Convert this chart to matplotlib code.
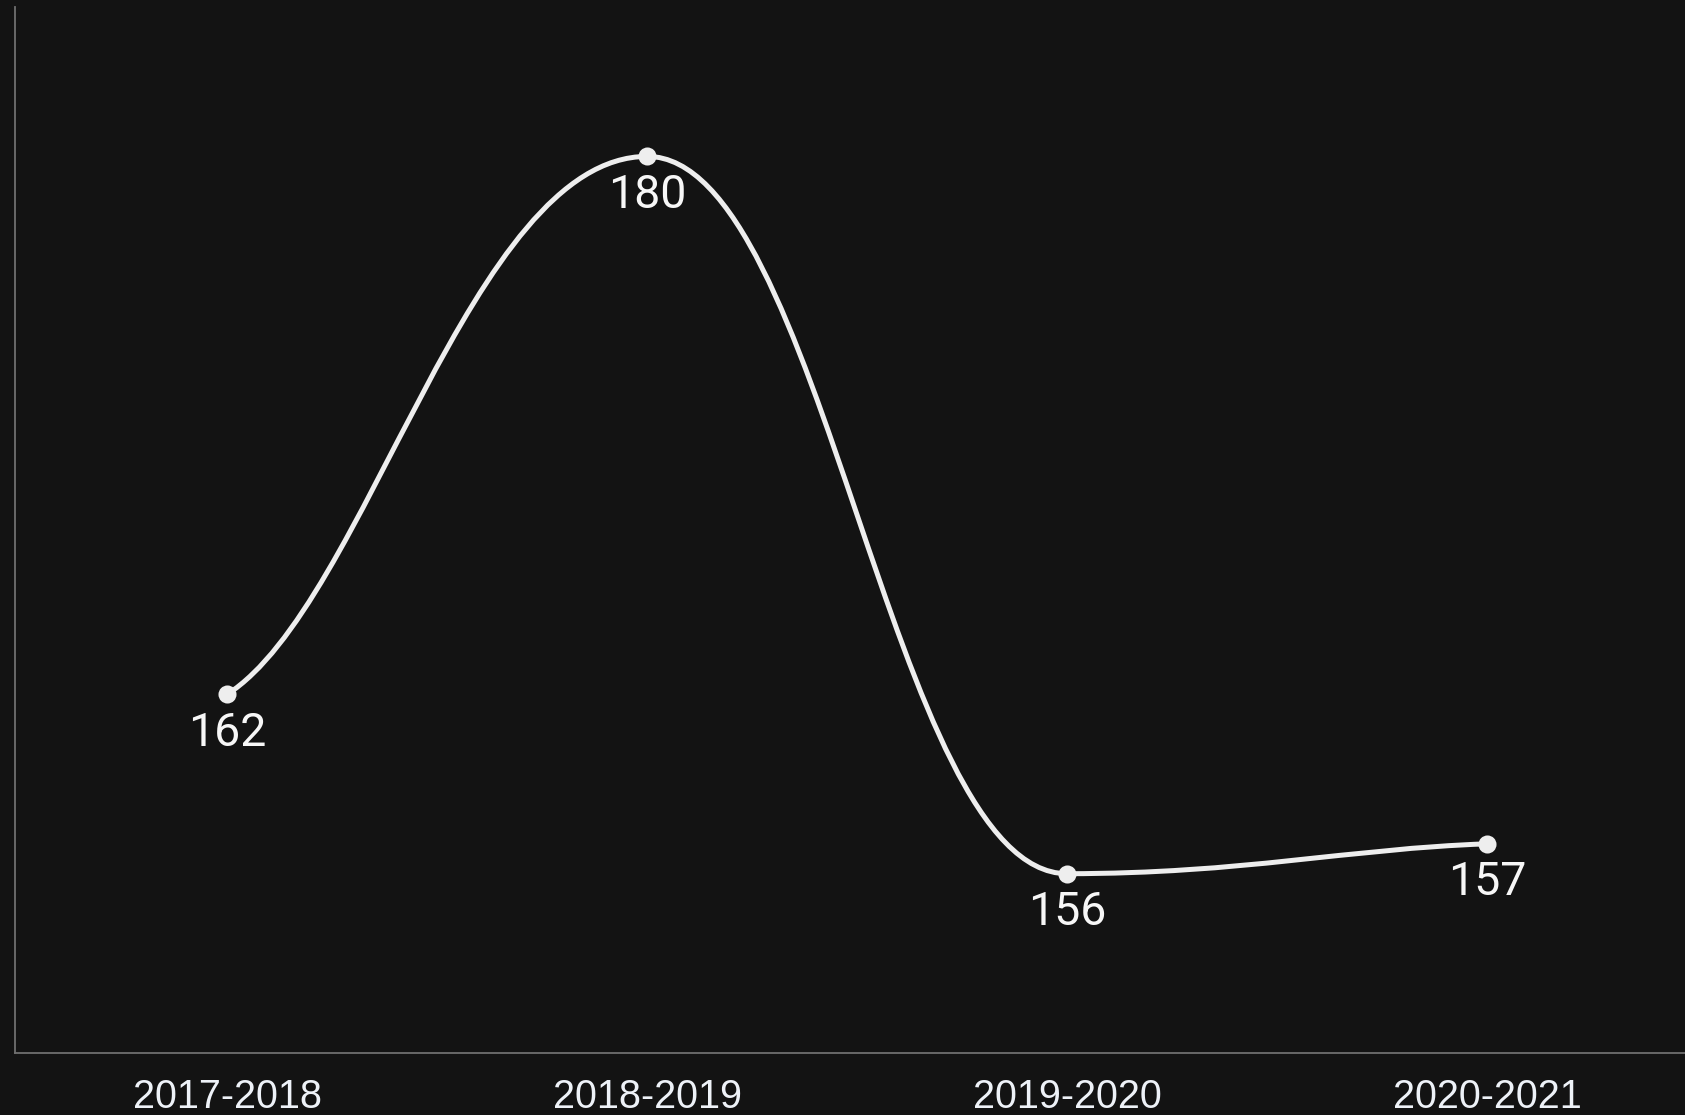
import matplotlib
matplotlib.use('Agg')
import matplotlib.pyplot as plt
from matplotlib.path import Path
from matplotlib.patches import PathPatch


seasons = ['2017-2018', '2018-2019', '2019-2020', '2020-2021']
values = [162, 180, 156, 157]

BG = '#131313'
LINE = '#eeeeee'
AXIS = '#6f6f6f'


def smooth_path(xs, ys):
	# bezier through every point: flat at turning points, half the secant at the ends
	n = len(xs)
	slope = [0.0] * n
	handle = [0.0] * n
	for i in range(n):
		if i == 0:
			slope[i] = (ys[1] - ys[0]) / (xs[1] - xs[0]) / 2
			handle[i] = (xs[1] - xs[0]) / 3
		elif i == n - 1:
			slope[i] = (ys[i] - ys[i - 1]) / (xs[i] - xs[i - 1]) / 2
			handle[i] = (xs[i] - xs[i - 1]) / 3
		else:
			s0 = (ys[i] - ys[i - 1]) / (xs[i] - xs[i - 1])
			s1 = (ys[i + 1] - ys[i]) / (xs[i + 1] - xs[i])
			slope[i] = 0.0 if s0 * s1 <= 0 else (s0 + s1) / 2
			handle[i] = 0.42 * min(xs[i] - xs[i - 1], xs[i + 1] - xs[i])
	verts = [(xs[0], ys[0])]
	codes = [Path.MOVETO]
	for i in range(n - 1):
		a = handle[i]
		b = handle[i + 1]
		verts.append((xs[i] + a, ys[i] + a * slope[i]))
		verts.append((xs[i + 1] - b, ys[i + 1] - b * slope[i + 1]))
		verts.append((xs[i + 1], ys[i + 1]))
		codes += [Path.CURVE4] * 3
	return Path(verts, codes)


xs = list(range(len(values)))

fig = plt.figure(figsize=(16.85, 11.15), dpi=100)
fig.patch.set_facecolor(BG)
ax = fig.add_axes([15 / 1685, 62 / 1115, 1670 / 1685, 1046 / 1115])
ax.set_facecolor(BG)

ax.add_patch(PathPatch(smooth_path(xs, values), facecolor='none', edgecolor=LINE, lw=3.6, capstyle='round'))
ax.plot(xs, values, 'o', color=LINE, markersize=13, markeredgewidth=0, zorder=3)

for x, v in zip(xs, values):
	ax.annotate(str(v), xy=(x, v), xytext=(0, -27.5), textcoords='offset points',
		ha='center', va='center', fontsize=33.5, color='#f7f7f7', family='Roboto')

ax.set_xlim(-0.505, 3.471)
ax.set_ylim(150, 185)
ax.set_xticks(xs)
ax.set_xticklabels(seasons, fontsize=28.5, color='#eef2f8', family='Liberation Sans')
ax.tick_params(axis='x', length=0, pad=18)
ax.set_yticks([])

for side in ['top', 'right']:
	ax.spines[side].set_visible(False)
for side in ['left', 'bottom']:
	ax.spines[side].set_color(AXIS)
	ax.spines[side].set_linewidth(1.3)

plt.savefig('out.png', dpi=100, facecolor=BG)
plt.close(fig)
